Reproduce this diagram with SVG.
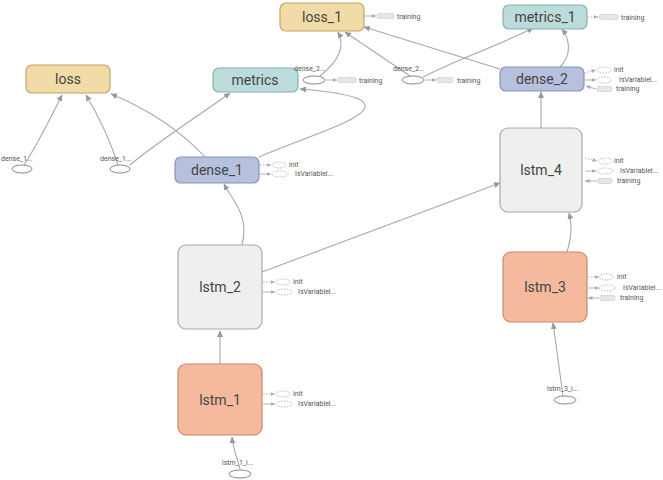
<svg xmlns="http://www.w3.org/2000/svg" width="663" height="480" viewBox="0 0 663 480">
<defs>
<marker id="ah" markerWidth="7" markerHeight="7" refX="6" refY="3.5" orient="auto" markerUnits="userSpaceOnUse">
<path d="M0,0.5 L6.5,3.5 L0,6.5 z" fill="#999"/>
</marker>
<marker id="sah" markerWidth="5" markerHeight="5" refX="4.5" refY="2.5" orient="auto" markerUnits="userSpaceOnUse">
<path d="M0,0.5 L4.5,2.5 L0,4.5 z" fill="#aaa"/>
</marker>
<style>
.n text{font-family:Roboto,"Liberation Sans",sans-serif;font-size:14px;fill:#444;text-anchor:middle;dominant-baseline:central}
.loss rect{fill:#f1dca8;stroke:#c4a66a;stroke-width:1.2}
.met rect{fill:#bcdcdb;stroke:#86b2b1;stroke-width:1.2}
.den rect{fill:#b7c1de;stroke:#8793b8;stroke-width:1.2}
.lg rect{fill:#efefef;stroke:#a9a9a9;stroke-width:1.2}
.lo rect{fill:#f5ba9e;stroke:#c48a70;stroke-width:1.2}
.e path{fill:none;stroke:#a8a8a8;stroke-width:1.1;marker-end:url(#ah)}
.inp ellipse{fill:#fff;stroke:#888;stroke-width:1}
.inp text,.t text{font-family:Roboto,"Liberation Sans",sans-serif;font-size:7px;fill:#555}
.t line{stroke:#aaa;stroke-width:0.9;marker-end:url(#sah)}
.t line.d{stroke-dasharray:1.5,1.5}
.t ellipse{fill:#fff;stroke:#aaa;stroke-width:0.8;stroke-dasharray:1.5,1.2}
.t rect{fill:#e6e6e6;stroke:#bbb;stroke-width:0.8;stroke-dasharray:1.5,1.2}
</style>
</defs>
<rect width="663" height="480" fill="#fff"/>

<g id="connectors" class="e">
<path d="M24,165 C40,140 52,115 62,95"/>
<path d="M118,165 C110,140 98,115 86,95"/>
<path d="M130,165 C160,140 200,115 230,93"/>
<path d="M205,157 C180,130 150,110 111,94"/>
<path d="M259,157 C320,130 440,100 300,89"/>
<path d="M242,245 C250,215 232,200 224,184"/>
<path d="M262,272 L500,183"/>
<path d="M220,364 L220,331"/>
<path d="M240,469 C236,455 233,448 232,437"/>
<path d="M563,396 L553,323"/>
<path d="M567,252 C572,235 572,225 569,213"/>
<path d="M541,128 L541,92"/>
<path d="M560,67 C572,55 570,40 562,29"/>
<path d="M500,69 L364,27"/>
<path d="M410,76 L345,32"/>
<path d="M423,77 C460,58 500,45 533,28"/>
<path d="M320,76 C340,60 345,45 338,32"/>
</g>

<g id="loss" class="n loss"><rect x="26" y="65" width="84" height="28" rx="6"/><text x="68" y="79">loss</text></g>
<g id="loss_1" class="n loss"><rect x="280" y="3" width="84" height="28" rx="6"/><text x="322" y="17">loss_1</text></g>
<g id="metrics" class="n met"><rect x="213" y="68" width="85" height="24" rx="6"/><text x="255" y="80">metrics</text></g>
<g id="metrics_1" class="n met"><rect x="503" y="5" width="84" height="24" rx="6"/><text x="545" y="17">metrics_1</text></g>
<g id="dense_2" class="n den"><rect x="500" y="67" width="84" height="24" rx="6"/><text x="542" y="79">dense_2</text></g>
<g id="dense_1" class="n den"><rect x="175" y="157" width="84" height="26" rx="6"/><text x="217" y="170">dense_1</text></g>
<g id="lstm_4" class="n lg"><rect x="500" y="128" width="82" height="84" rx="8"/><text x="541" y="170">lstm_4</text></g>
<g id="lstm_2" class="n lg"><rect x="178" y="245" width="84" height="84" rx="8"/><text x="220" y="287">lstm_2</text></g>
<g id="lstm_3" class="n lo"><rect x="503" y="252" width="84" height="70" rx="8"/><text x="545" y="287">lstm_3</text></g>
<g id="lstm_1" class="n lo"><rect x="178" y="364" width="84" height="71" rx="8"/><text x="220" y="400">lstm_1</text></g>

<g id="in_dense_1a" class="inp"><text x="1" y="161">dense_1...</text><ellipse cx="22" cy="169" rx="10" ry="4"/></g>
<g id="in_dense_1b" class="inp"><text x="100" y="161">dense_1...</text><ellipse cx="120" cy="169" rx="10" ry="4"/></g>
<g id="in_dense_2a" class="inp"><text x="294" y="71">dense_2...</text><ellipse cx="314" cy="80" rx="11" ry="4"/></g>
<g id="in_dense_2b" class="inp"><text x="393" y="71">dense_2...</text><ellipse cx="413" cy="80" rx="11" ry="4"/></g>
<g id="in_lstm_3" class="inp"><text x="547" y="391">lstm_3_i...</text><ellipse cx="565" cy="400" rx="11" ry="4"/></g>
<g id="in_lstm_1" class="inp"><text x="222" y="465">lstm_1_i...</text><ellipse cx="240" cy="474" rx="11" ry="4"/></g>

<g id="tags" class="t">
<line x1="365" y1="16" x2="376" y2="16"/><rect x="377" y="13.5" width="17" height="5" rx="1.5"/><text x="397" y="18.5">training</text>
<line class="d" x1="588" y1="17" x2="598" y2="17"/><rect x="599" y="14.5" width="19" height="5" rx="1.5"/><text x="621" y="19.5">training</text>
<line x1="326" y1="80" x2="337" y2="80"/><rect x="338" y="77.5" width="18" height="5" rx="1.5"/><text x="359" y="82.5">training</text>
<line x1="425" y1="80" x2="436" y2="80"/><rect x="437" y="77.5" width="16" height="5" rx="1.5"/><text x="457" y="82.5">training</text>

<line class="d" x1="585" y1="73" x2="596" y2="70"/><ellipse cx="604" cy="70" rx="7" ry="3"/><text x="614" y="72">init</text>
<line x1="585" y1="80" x2="596" y2="80"/><ellipse cx="604" cy="80" rx="7" ry="3"/><text x="619" y="82">IsVariablel...</text>
<line x1="596" y1="89" x2="586" y2="86"/><rect x="597" y="86.5" width="15" height="5" rx="1.5"/><text x="616" y="91">training</text>

<line class="d" x1="260" y1="165" x2="271" y2="165"/><ellipse cx="279" cy="165" rx="7" ry="3"/><text x="289" y="167">init</text>
<line x1="260" y1="174" x2="271" y2="174"/><ellipse cx="280" cy="174" rx="8" ry="3"/><text x="295" y="176">IsVariablel...</text>

<line class="d" x1="585" y1="158" x2="597" y2="161"/><ellipse cx="605" cy="161" rx="7" ry="3"/><text x="614" y="163">init</text>
<line x1="585" y1="171" x2="596" y2="171"/><ellipse cx="605" cy="171" rx="8" ry="3"/><text x="620" y="173">IsVariablel...</text>
<line x1="597" y1="181" x2="585" y2="181"/><rect x="598" y="178.5" width="14" height="5" rx="1.5"/><text x="617" y="183">training</text>

<line class="d" x1="263" y1="282" x2="275" y2="282"/><ellipse cx="283" cy="282" rx="7" ry="3"/><text x="293" y="284">init</text>
<line x1="263" y1="292" x2="275" y2="292"/><ellipse cx="284" cy="292" rx="8" ry="3"/><text x="298" y="294">IsVariablel...</text>

<line class="d" x1="588" y1="277" x2="599" y2="277"/><ellipse cx="606" cy="277" rx="7" ry="3"/><text x="617" y="279">init</text>
<line x1="588" y1="288" x2="599" y2="288"/><ellipse cx="607" cy="288" rx="8" ry="3"/><text x="623" y="290">IsVariablel...</text>
<line x1="599" y1="298" x2="588" y2="298"/><rect x="600" y="295.5" width="15" height="5" rx="1.5"/><text x="620" y="300">training</text>

<line class="d" x1="263" y1="394" x2="275" y2="394"/><ellipse cx="283" cy="394" rx="7" ry="3"/><text x="293" y="396">init</text>
<line x1="263" y1="404" x2="275" y2="404"/><ellipse cx="284" cy="404" rx="8" ry="3"/><text x="298" y="406">IsVariablel...</text>
</g>
</svg>
